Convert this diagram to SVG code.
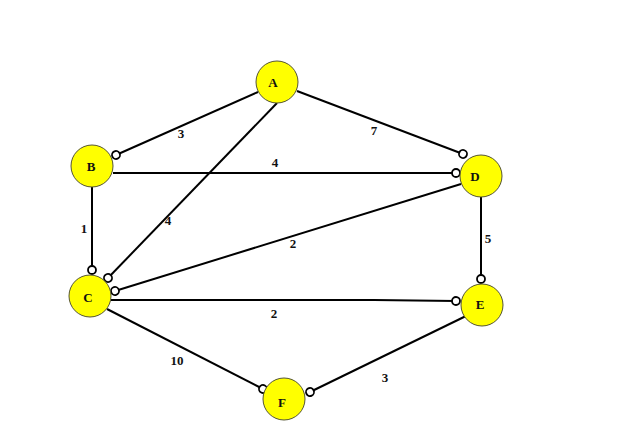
<svg xmlns="http://www.w3.org/2000/svg" width="639" height="436" viewBox="0 0 639 436">
<style>
.node{fill:#ffff00;stroke:#555533;stroke-width:1}
.edge{fill:none;stroke:#000;stroke-width:2;marker-end:url(#o)}
.nl{font-family:"Liberation Serif",serif;font-weight:bold;font-size:13px;text-anchor:middle;fill:#111}
.el{font-family:"Liberation Serif",serif;font-weight:bold;font-size:13px;text-anchor:middle;fill:#111}
</style>
<defs>
<marker id="o" markerUnits="userSpaceOnUse" markerWidth="12" markerHeight="12" refX="6" refY="6" orient="auto">
<circle cx="6" cy="6" r="4" fill="#fff" stroke="#000" stroke-width="1.8"/>
</marker>
</defs>
<rect width="639" height="436" fill="#fff"/>
<g id="connectors">
<line class="edge" x1="258" y1="92" x2="116" y2="155"/>
<line class="edge" x1="297" y1="91" x2="463" y2="154"/>
<line class="edge" x1="113" y1="173" x2="456" y2="173"/>
<line class="edge" x1="277" y1="103" x2="108" y2="278"/>
<line class="edge" x1="92" y1="187" x2="92" y2="270"/>
<line class="edge" x1="461" y1="184" x2="115" y2="291"/>
<polyline class="edge" points="111,300 374,300 456,301"/>
<line class="edge" x1="481" y1="197" x2="481" y2="279"/>
<line class="edge" x1="107" y1="309" x2="263" y2="389"/>
<line class="edge" x1="466" y1="316" x2="310" y2="392"/>
<text class="el" x="181" y="138">3</text>
<text class="el" x="374" y="135">7</text>
<text class="el" x="275" y="167">4</text>
<text class="el" x="84" y="233">1</text>
<text class="el" x="168" y="225">4</text>
<text class="el" x="293" y="248">2</text>
<text class="el" x="488" y="243">5</text>
<text class="el" x="274" y="318">2</text>
<text class="el" x="177" y="365">10</text>
<text class="el" x="385" y="382">3</text>
</g>
<g id="A"><circle class="node" cx="277" cy="82" r="21"/><text class="nl" x="273" y="87">A</text></g>
<g id="B"><circle class="node" cx="92" cy="166" r="21"/><text class="nl" x="91" y="171">B</text></g>
<g id="C"><circle class="node" cx="90" cy="296" r="21"/><text class="nl" x="88" y="302">C</text></g>
<g id="D"><circle class="node" cx="481" cy="176" r="21"/><text class="nl" x="475" y="181">D</text></g>
<g id="E"><circle class="node" cx="482" cy="305" r="21"/><text class="nl" x="480" y="309">E</text></g>
<g id="F"><circle class="node" cx="284" cy="399" r="21"/><text class="nl" x="282" y="407">F</text></g>
</svg>
